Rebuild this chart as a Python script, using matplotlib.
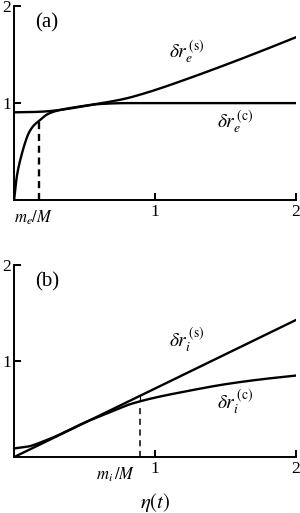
import matplotlib
matplotlib.use("Agg")
import matplotlib.pyplot as plt
import numpy as np

plt.rcParams['font.family'] = ['Liberation Serif', 'DejaVu Serif']
plt.rcParams['mathtext.fontset'] = 'stix'

# Panel (a) data
eta_a = [0.0, 0.02, 0.05, 0.08, 0.1, 0.14, 0.18, 0.22, 0.25, 0.3, 0.4, 0.5, 0.6, 0.7, 0.8, 0.9, 1.0, 1.2, 1.5, 1.75, 2.0]
dre_s = [0.0, 0.25, 0.45, 0.60, 0.68, 0.77, 0.82, 0.87, 0.895, 0.92, 0.95, 0.972, 0.995, 1.02, 1.05, 1.09, 1.135, 1.235, 1.395, 1.535, 1.68]
eta_ac = [0.0, 0.1, 0.2, 0.3, 0.4, 0.5, 0.6, 0.8, 1.0, 1.5, 2.0]
dre_c = [0.905, 0.907, 0.912, 0.925, 0.945, 0.97, 0.99, 1.0, 1.0, 1.0, 1.0]
me_M = 0.18
me_M_val = 0.82

# Panel (b) data
eta_b = [0.0, 2.0]
dri_s = [0.0, 1.43]
eta_bc = [0.0, 0.1, 0.2, 0.3, 0.4, 0.5, 0.6, 0.7, 0.8, 0.89, 1.0, 1.2, 1.5, 1.75, 2.0]
dri_c = [0.09, 0.11, 0.16, 0.22, 0.29, 0.36, 0.42, 0.48, 0.54, 0.58, 0.62, 0.68, 0.76, 0.81, 0.85]
mi_M = 0.89


def pchip(x, y, n=400):
    x = np.asarray(x, float)
    y = np.asarray(y, float)
    h = np.diff(x)
    d = np.diff(y) / h
    m = np.zeros_like(y)
    for k in range(1, len(x) - 1):
        if d[k - 1] * d[k] > 0:
            w1 = 2 * h[k] + h[k - 1]
            w2 = h[k] + 2 * h[k - 1]
            m[k] = (w1 + w2) / (w1 / d[k - 1] + w2 / d[k])
    m[0] = d[0]
    m[-1] = d[-1]
    xs = np.linspace(x[0], x[-1], n)
    idx = np.clip(np.searchsorted(x, xs) - 1, 0, len(x) - 2)
    t = (xs - x[idx]) / h[idx]
    h00 = 2 * t**3 - 3 * t**2 + 1
    h10 = t**3 - 2 * t**2 + t
    h01 = -2 * t**3 + 3 * t**2
    h11 = t**3 - t**2
    ys = h00 * y[idx] + h10 * h[idx] * m[idx] + h01 * y[idx + 1] + h11 * h[idx] * m[idx + 1]
    return xs, ys


fig = plt.figure(figsize=(3.0, 5.13), dpi=100)
ax1 = fig.add_axes([0.047, 0.610, 0.940, 0.378])
ax2 = fig.add_axes([0.047, 0.109, 0.940, 0.374])


def style(ax):
    ax.set_xlim(0, 2)
    ax.set_ylim(0, 2)
    ax.spines['top'].set_visible(False)
    ax.spines['right'].set_visible(False)
    for s in ['left', 'bottom']:
        ax.spines[s].set_linewidth(1.4)
    ax.set_xticks([1, 2])
    ax.set_yticks([1, 2])
    ax.tick_params(direction='in', length=5, width=1.4, labelsize=12.5, pad=3)
    ax.tick_params(axis='y', pad=2)


lw = 1.7
for ax in (ax1, ax2):
    style(ax)

ax1.plot(*pchip(eta_a, dre_s), color='black', lw=lw)
ax1.plot(*pchip(eta_ac, dre_c), color='black', lw=lw)
ax1.plot([me_M, me_M], [0, me_M_val], color='black', lw=1.7, ls=(0, (3, 2)))
ax1.text(me_M - 0.04, -0.09, r'$m_e/M$', ha='center', va='top', fontsize=12)
ax1.text(0.15, 1.83, '(a)', fontsize=15, ha='left', va='center')
ax1.text(1.1, 1.52, r'$\delta r_e^{\,(\mathrm{s})}$', fontsize=14, ha='left', va='center')
ax1.text(1.44, 0.80, r'$\delta r_e^{\,(\mathrm{c})}$', fontsize=14, ha='left', va='center')

ax2.plot(eta_b, dri_s, color='black', lw=lw)
ax2.plot(*pchip(eta_bc, dri_c), color='black', lw=lw)
ci = np.interp(mi_M, eta_bc, dri_c)
si = np.interp(mi_M, eta_b, dri_s)
ax2.plot([mi_M, mi_M], [0, ci - 0.03], color='black', lw=1.1, ls=(0, (4, 3)))
ax2.plot([mi_M, mi_M], [ci, si], color='black', lw=0.8)
ax2.text(0.72, -0.09, r'$m_i\,/M$', ha='center', va='top', fontsize=12)
ax2.text(0.15, 1.83, '(b)', fontsize=15, ha='left', va='center')
ax2.text(1.1, 1.22, r'$\delta r_i^{\,(\mathrm{s})}$', fontsize=14, ha='left', va='center')
ax2.text(1.44, 0.57, r'$\delta r_i^{\,(\mathrm{c})}$', fontsize=14, ha='left', va='center')
ax2.set_xlabel(r'$\eta(t)$', fontsize=15, labelpad=10)

fig.savefig('out.png', dpi=100)
